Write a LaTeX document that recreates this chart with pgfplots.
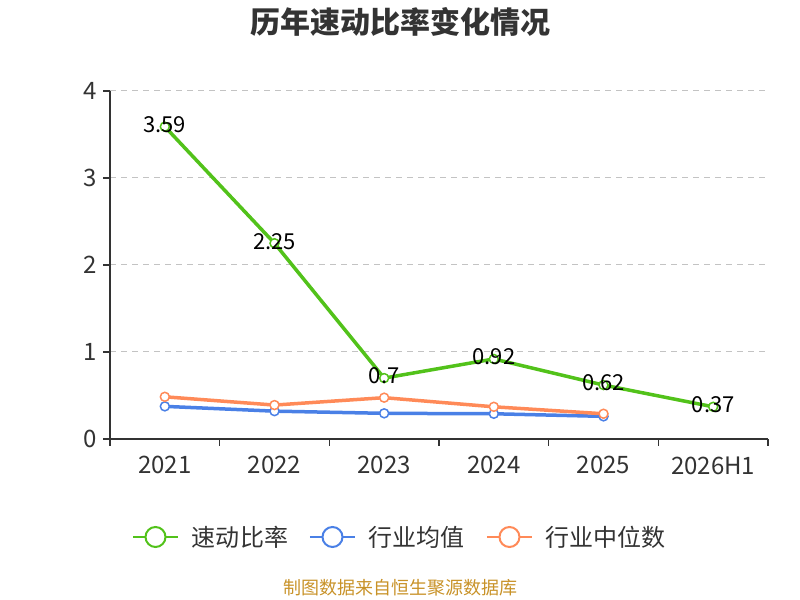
\documentclass[border=0pt]{standalone}
\usepackage{fontspec}
\setmainfont{Noto Sans CJK SC}
\usepackage{pgfplots}
\pgfplotsset{compat=1.18}
\definecolor{cgreen}{RGB}{82,194,26}
\definecolor{cblue}{RGB}{74,128,230}
\definecolor{corange}{RGB}{255,138,88}
\definecolor{caxis}{RGB}{51,51,51}
\definecolor{ctext}{RGB}{51,51,51}
\definecolor{cgrid}{RGB}{195,195,195}
\definecolor{csrc}{RGB}{200,146,40}
\begin{document}
\begin{tikzpicture}[x=1bp,y=1bp]
\path (0,0) rectangle (800,600);
\node[text=ctext,font=\fontsize{30bp}{34bp}\selectfont\bfseries] at (400,578) {历年速动比率变化情况};
\node[text=csrc,font=\fontsize{18bp}{21bp}\selectfont] at (400,12) {制图数据来自恒生聚源数据库};
\begin{axis}[
  at={(110bp,161bp)}, anchor=south west,
  scale only axis, width=658bp, height=348bp,
  xmin=-0.5, xmax=5.5, ymin=0, ymax=4,
  axis x line*=bottom, axis y line*=left,
  axis line style={caxis, line width=1.5bp},
  xtick={0,1,2,3,4,5},
  xticklabels={2021,2022,2023,2024,2025,2026H1},
  minor xtick={-0.5,0.5,1.5,2.5,3.5,4.5,5.5},
  ytick={0,1,2,3,4},
  minor ytick={0,1,2,3,4},
  tick style={draw=caxis, line width=1.5bp},
  tick align=outside,
  major tick length=0bp,
  minor tick length=7bp,
  ymajorgrids,
  major grid style={cgrid, line width=1bp, dash pattern=on 6bp off 5bp},
  /pgf/number format/assume math mode=true,
  tick label style={text=ctext, font=\fontsize{24bp}{27bp}\selectfont},
  xticklabel style={yshift=-14bp},
  yticklabel style={xshift=-10bp},
  legend columns=3,
  legend style={at={(0.4407,-0.2816)}, anchor=center, draw=none, fill=none,
    font=\fontsize{24bp}{27bp}\selectfont, text=ctext,
    /tikz/every odd column/.append style={column sep=11bp},
    /tikz/every even column/.append style={column sep=19bp}},
  legend image code/.code={%
    \draw[#1,mark=none,line width=2bp] (0bp,0bp)--(45bp,0bp);
    \draw[#1,mark=none,fill=white,line width=2bp] (22.5bp,0bp) circle (10bp);},
  clip=false,
]
\addplot[cgreen, line width=3.5bp, mark=*, mark size=4.5bp, mark options={fill=white, line width=1.5bp},
  nodes near coords, point meta=explicit symbolic,
  every node near coord/.append style={anchor=center, yshift=2bp, text=black, font=\fontsize{22bp}{25bp}\selectfont}]
  coordinates {(0,3.59)[3.59] (1,2.25)[2.25] (2,0.70)[0.7] (3,0.92)[0.92] (4,0.62)[0.62] (5,0.37)[0.37]};
\addlegendentry{速动比率}
\addplot[cblue, line width=3.5bp, mark=*, mark size=4.5bp, mark options={fill=white, line width=1.5bp}]
  coordinates {(0,0.375) (1,0.32) (2,0.295) (3,0.29) (4,0.26)};
\addlegendentry{行业均值}
\addplot[corange, line width=3.5bp, mark=*, mark size=4.5bp, mark options={fill=white, line width=1.5bp}]
  coordinates {(0,0.485) (1,0.39) (2,0.475) (3,0.37) (4,0.29)};
\addlegendentry{行业中位数}
\end{axis}
\end{tikzpicture}
\end{document}
